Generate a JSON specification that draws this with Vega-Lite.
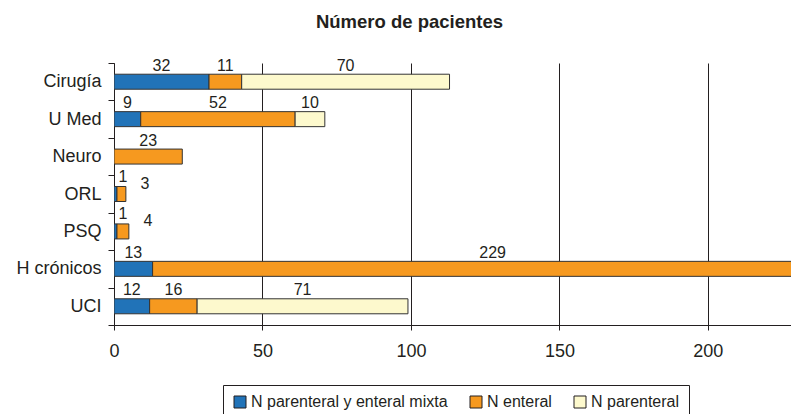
{
  "$schema": "https://vega.github.io/schema/vega-lite/v6.json",
  "autosize": {"type": "none"},
  "padding": {"left": 114, "top": 63, "right": 0, "bottom": 89},
  "width": 677,
  "height": 262,
  "title": {"text": "Número de pacientes", "fontSize": 18.5, "fontWeight": "bold", "font": "Liberation Sans", "color": "#231f20", "anchor": "middle", "dx": -43, "offset": 23},
  "data": {"values": [
    {"servicio": "Cirugía", "serie": "N parenteral y enteral mixta", "orden": 1, "n": 32},
    {"servicio": "Cirugía", "serie": "N enteral", "orden": 2, "n": 11},
    {"servicio": "Cirugía", "serie": "N parenteral", "orden": 3, "n": 70},
    {"servicio": "U Med", "serie": "N parenteral y enteral mixta", "orden": 1, "n": 9},
    {"servicio": "U Med", "serie": "N enteral", "orden": 2, "n": 52},
    {"servicio": "U Med", "serie": "N parenteral", "orden": 3, "n": 10},
    {"servicio": "Neuro", "serie": "N enteral", "orden": 2, "n": 23},
    {"servicio": "ORL", "serie": "N parenteral y enteral mixta", "orden": 1, "n": 1},
    {"servicio": "ORL", "serie": "N enteral", "orden": 2, "n": 3},
    {"servicio": "PSQ", "serie": "N parenteral y enteral mixta", "orden": 1, "n": 1},
    {"servicio": "PSQ", "serie": "N enteral", "orden": 2, "n": 4},
    {"servicio": "H crónicos", "serie": "N parenteral y enteral mixta", "orden": 1, "n": 13},
    {"servicio": "H crónicos", "serie": "N enteral", "orden": 2, "n": 229},
    {"servicio": "UCI", "serie": "N parenteral y enteral mixta", "orden": 1, "n": 12},
    {"servicio": "UCI", "serie": "N enteral", "orden": 2, "n": 16},
    {"servicio": "UCI", "serie": "N parenteral", "orden": 3, "n": 71}
  ]},
  "encoding": {
    "y": {
      "field": "servicio", "type": "nominal",
      "sort": ["Cirugía", "U Med", "Neuro", "ORL", "PSQ", "H crónicos", "UCI"],
      "scale": {"paddingInner": 0, "paddingOuter": 0},
      "axis": {"title": null, "labelFontSize": 18, "labelFont": "Liberation Sans", "labelColor": "#231f20", "labelPadding": 7, "tickBand": "extent", "tickSize": 6, "tickColor": "#231f20", "domainColor": "#231f20", "grid": false}
    }
  },
  "layer": [
    {
      "mark": {"type": "bar", "size": 15, "stroke": "#333333", "strokeWidth": 1, "clip": true},
      "encoding": {
        "x": {
          "field": "n", "type": "quantitative", "stack": "zero",
          "scale": {"domain": [0, 228], "nice": false, "zero": true},
          "axis": {"title": null, "values": [0, 50, 100, 150, 200], "grid": true, "gridColor": "#231f20", "gridOpacity": 1, "gridWidth": 1, "domainColor": "#231f20", "tickColor": "#231f20", "tickSize": 5, "labelFontSize": 18, "labelFont": "Liberation Sans", "labelColor": "#231f20", "labelPadding": 12, "labelFlush": false}
        },
        "color": {
          "field": "serie", "type": "nominal",
          "scale": {"domain": ["N parenteral y enteral mixta", "N enteral", "N parenteral"], "range": ["#2173b8", "#f6991f", "#fdf9cd"]},
          "legend": {"title": null, "orient": "none", "legendX": 109, "legendY": 322, "direction": "horizontal", "strokeColor": "#231f20", "fillColor": "white", "padding": 9, "symbolType": "square", "symbolSize": 144, "symbolStrokeColor": "#231f20", "symbolStrokeWidth": 1, "symbolOpacity": 1, "labelFontSize": 16, "labelFont": "Liberation Sans", "labelColor": "#231f20", "labelOffset": 3, "labelLimit": 0, "columnPadding": 20}
        },
        "order": {"field": "orden", "type": "quantitative"}
      }
    },
    {
      "transform": [{"filter": "datum.n >= 5"}],
      "mark": {"type": "text", "fontSize": 16, "font": "Liberation Sans", "color": "#231f20", "baseline": "middle", "align": "center", "yOffset": -16},
      "encoding": {
        "x": {"field": "n", "type": "quantitative", "stack": "zero", "bandPosition": 0.5},
        "detail": {"field": "serie", "type": "nominal"},
        "order": {"field": "orden", "type": "quantitative"},
        "text": {"field": "n", "type": "quantitative"}
      }
    },
    {
      "transform": [{"filter": "datum.n < 5 && datum.orden == 1"}],
      "mark": {"type": "text", "fontSize": 16, "font": "Liberation Sans", "color": "#231f20", "baseline": "middle", "align": "center", "yOffset": -17, "dx": 6},
      "encoding": {
        "x": {"field": "n", "type": "quantitative", "bandPosition": 0.5},
        "text": {"field": "n", "type": "quantitative"}
      }
    },
    {
      "transform": [{"filter": "datum.n < 5 && datum.orden == 2"}],
      "mark": {"type": "text", "fontSize": 16, "font": "Liberation Sans", "color": "#231f20", "baseline": "middle", "align": "center", "yOffset": -10, "dx": 22},
      "encoding": {
        "x": {"field": "n", "type": "quantitative"},
        "text": {"field": "n", "type": "quantitative"}
      }
    }
  ],
  "config": {"view": {"stroke": null}, "font": "Liberation Sans"}
}
